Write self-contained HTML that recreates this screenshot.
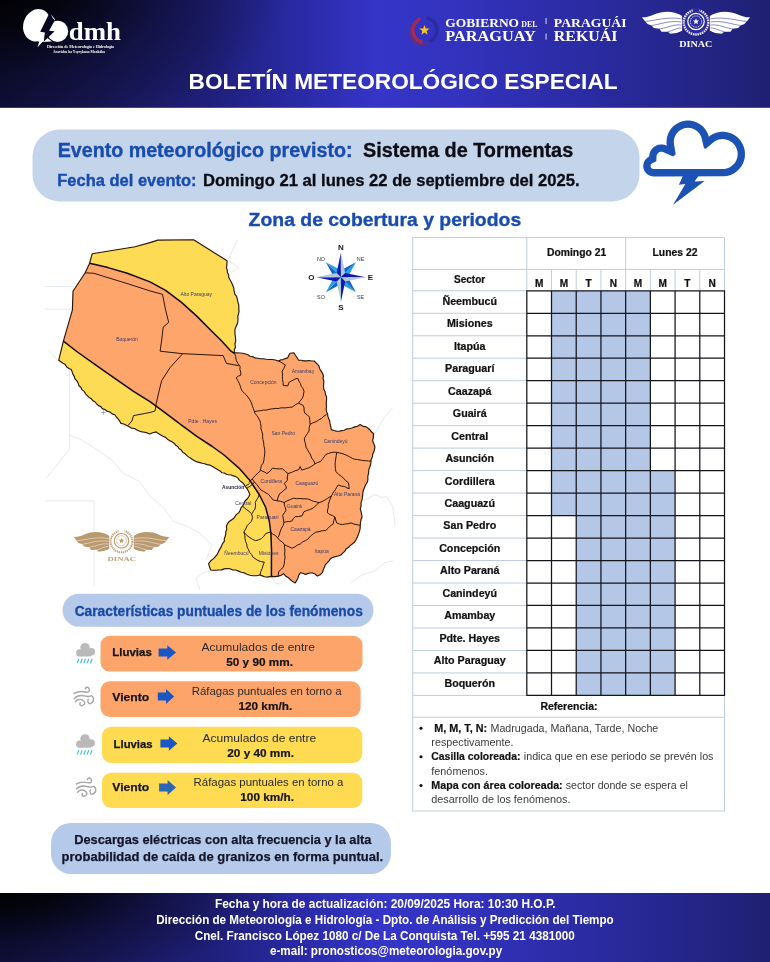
<!DOCTYPE html>
<html lang="es"><head><meta charset="utf-8"><title>Boletín Meteorológico Especial</title>
<style>
html,body{margin:0;padding:0;background:#fff}
body{width:770px;height:962px;overflow:hidden;font-family:'Liberation Sans',sans-serif}
svg{display:block}
svg text{font-family:'Liberation Sans',sans-serif;white-space:pre}
</style></head><body>
<svg width="770" height="962" viewBox="0 0 770 962">
<defs>
<linearGradient id="hg" gradientUnits="userSpaceOnUse" x1="0" y1="0" x2="770" y2="0">
<stop offset="0" stop-color="#111140"/><stop offset="0.13" stop-color="#18185a"/><stop offset="0.26" stop-color="#1e1e76"/><stop offset="0.39" stop-color="#2a2aa6"/>
<stop offset="0.49" stop-color="#3535c8"/><stop offset="0.58" stop-color="#3333c0"/><stop offset="0.78" stop-color="#2a2aa0"/><stop offset="1" stop-color="#1f2072"/>
</linearGradient>
<radialGradient id="hd" gradientUnits="userSpaceOnUse" cx="0" cy="0" r="1" gradientTransform="translate(-10 -12) scale(300 150)">
<stop offset="0" stop-color="#000" stop-opacity="1"/><stop offset="0.25" stop-color="#000" stop-opacity="0.8"/><stop offset="0.6" stop-color="#000" stop-opacity="0.32"/><stop offset="1" stop-color="#000" stop-opacity="0"/>
</radialGradient>
<radialGradient id="fd" gradientUnits="userSpaceOnUse" cx="0" cy="0" r="1" gradientTransform="translate(-10 885) scale(300 96)">
<stop offset="0" stop-color="#000" stop-opacity="1"/><stop offset="0.25" stop-color="#000" stop-opacity="0.8"/><stop offset="0.6" stop-color="#000" stop-opacity="0.32"/><stop offset="1" stop-color="#000" stop-opacity="0"/>
</radialGradient>
</defs>
<rect x="0" y="0" width="770" height="107.8" fill="url(#hg)"/><rect x="0" y="0" width="320" height="107.8" fill="url(#hd)"/>
<g fill="#fff">
<ellipse cx="37" cy="25.3" rx="13.7" ry="16.4" transform="rotate(17 37 25.3)"/>
<polygon points="36,40.5 46,37 52,41.6 40,41.9"/>
<circle cx="57.6" cy="31.3" r="10.6"/>
<polygon points="51.2,14.6 55.2,19.8 53.2,21.2"/>
</g>
<polygon points="49.2,13.6 54.8,20.5 49,30.7 54.6,31.3 43.7,41.8 44.9,32.4 40.2,31.7" fill="#07071f"/>
<polygon points="39.6,40.6 44.0,40.2 37.5,47.3" fill="#fff"/>
<text x="68.80" y="39.70" font-size="26" font-weight="bold" fill="#fff" textLength="52.20" lengthAdjust="spacingAndGlyphs" style="font-family:'Liberation Serif',serif">dmh</text>
<text x="47.00" y="47.80" font-size="4.6" font-weight="bold" fill="#fff" textLength="67.00" lengthAdjust="spacingAndGlyphs" style="font-family:'Liberation Serif',serif">Dirección de Meteorología e Hidrología</text>
<text x="53.00" y="52.50" font-size="4.6" font-weight="bold" fill="#fff" textLength="52.00" lengthAdjust="spacingAndGlyphs" style="font-family:'Liberation Serif',serif">Aravichu ha Ysyrykuaa Moakãha</text>
<path d="M420.5 18.5 A12.5 12.5 0 0 0 422.5 42.3" fill="none" stroke="#c0283c" stroke-width="3.4" opacity="0.85"/>
<path d="M415.5 23 A11 11 0 0 0 428.5 42.5" fill="none" stroke="#8a2a4e" stroke-width="1.6" opacity="0.7"/>
<path d="M426.5 17.7 A12.5 12.5 0 0 1 429.5 41.5" fill="none" stroke="#2a2a8e" stroke-width="3.4" opacity="0.7"/>
<polygon points="424.5,24.9 425.8,28.5 429.6,28.6 426.6,31.0 427.7,34.7 424.5,32.5 421.3,34.7 422.4,31.0 419.4,28.6 423.2,28.5" fill="#f6c81e"/>
<text x="445.30" y="26.60" font-size="12.6" font-weight="bold" fill="#fff" textLength="73.70" lengthAdjust="spacingAndGlyphs" style="font-family:'Liberation Serif',serif">GOBIERNO</text>
<text x="521.30" y="26.60" font-size="8.2" font-weight="bold" fill="#fff" textLength="16.10" lengthAdjust="spacingAndGlyphs" style="font-family:'Liberation Serif',serif">DEL</text>
<text x="445.30" y="41.20" font-size="13.6" font-weight="bold" fill="#fff" textLength="90.50" lengthAdjust="spacingAndGlyphs" style="font-family:'Liberation Serif',serif">PARAGUAY</text>
<rect x="545.6" y="18" width="0.9" height="6" fill="#e8e8ff"/><rect x="545.6" y="33.6" width="0.9" height="6" fill="#e8e8ff"/>
<text x="553.80" y="26.60" font-size="12.6" font-weight="bold" fill="#fff" textLength="72.70" lengthAdjust="spacingAndGlyphs" style="font-family:'Liberation Serif',serif">PARAGUÁI</text>
<text x="553.80" y="41.20" font-size="13.6" font-weight="bold" fill="#fff" textLength="63.60" lengthAdjust="spacingAndGlyphs" style="font-family:'Liberation Serif',serif">REKUÁI</text>
<g transform="translate(696,21.5) scale(1)">
<path d="M-13.87 -5.45 C-20.26 -10.44 -32.73 -11.38 -41.30 -7.32 C-45.97 -5.14 -50.65 -3.90 -54.08 -4.21 L-50.96 -0.16 L-48.47 2.49 L-44.41 3.90 L-42.23 6.39 L-36.62 7.32 L-34.44 10.29 L-28.05 10.13 L-25.87 12.31 L-19.17 11.38 L-13.87 9.19 Z" fill="#ffffff"/>
<path d="M-50.96 -0.16 C-41.30 -0.47 -30.39 -5.14 -14.49 -2.65 M-44.41 3.90 C-36.62 3.27 -27.27 -1.40 -14.49 0.47 M-36.62 7.32 C-29.61 6.70 -22.60 2.34 -14.49 3.58 M-28.05 10.13 C-23.38 9.51 -19.17 6.08 -14.49 6.39" fill="none" stroke="#2b2b9c" stroke-width="0.55"/>
<path d="M13.87 -5.45 C20.26 -10.44 32.73 -11.38 41.30 -7.32 C45.97 -5.14 50.65 -3.90 54.08 -4.21 L50.96 -0.16 L48.47 2.49 L44.41 3.90 L42.23 6.39 L36.62 7.32 L34.44 10.29 L28.05 10.13 L25.87 12.31 L19.17 11.38 L13.87 9.19 Z" fill="#ffffff"/>
<path d="M50.96 -0.16 C41.30 -0.47 30.39 -5.14 14.49 -2.65 M44.41 3.90 C36.62 3.27 27.27 -1.40 14.49 0.47 M36.62 7.32 C29.61 6.70 22.60 2.34 14.49 3.58 M28.05 10.13 C23.38 9.51 19.17 6.08 14.49 6.39" fill="none" stroke="#2b2b9c" stroke-width="0.55"/>
<ellipse cx="0" cy="0.8" rx="13.6" ry="13.2" fill="#2b2b9c"/>
<ellipse cx="0" cy="0.8" rx="12.3" ry="12.2" fill="none" stroke="#ffffff" stroke-width="2.3" stroke-dasharray="1.5 0.8" opacity="0.92"/>
<rect x="-3.4" y="-14" width="6.8" height="6" fill="#2b2b9c"/>
<circle cx="0" cy="0" r="8.9" fill="#2b2b9c"/>
<circle cx="0" cy="0" r="8.2" fill="none" stroke="#ffffff" stroke-width="1.25"/>
<circle cx="0" cy="0" r="5.6" fill="none" stroke="#ffffff" stroke-width="0.9" stroke-dasharray="1.1 0.7"/>
<polygon points="0.0,-3.4 0.8,-1.1 3.2,-1.1 1.3,0.4 2.0,2.8 0.0,1.4 -2.0,2.8 -1.3,0.4 -3.2,-1.1 -0.8,-1.1" fill="#ffffff"/>
</g>
<text x="679.30" y="47.20" font-size="9.2" font-weight="bold" fill="#fff" textLength="33.10" lengthAdjust="spacingAndGlyphs" style="font-family:'Liberation Serif',serif">DINAC</text>
<text x="188.60" y="89.10" font-size="21.8" font-weight="bold" fill="#fff" textLength="429.00" lengthAdjust="spacingAndGlyphs">BOLETÍN METEOROLÓGICO ESPECIAL</text>
<rect x="32.5" y="129.6" width="607" height="71.8" rx="27" ry="27" fill="#c4d4eb"/>
<text x="57.70" y="156.50" font-size="19.4" font-weight="bold" fill="#184cae" textLength="294.80" lengthAdjust="spacingAndGlyphs" stroke="#184cae" stroke-width="0.35">Evento meteorológico previsto:</text>
<text x="362.90" y="156.50" font-size="19.4" font-weight="bold" fill="#0c0c14" textLength="210.30" lengthAdjust="spacingAndGlyphs" stroke="#0c0c14" stroke-width="0.3">Sistema de Tormentas</text>
<text x="57.30" y="186.00" font-size="16.8" font-weight="bold" fill="#184cae" textLength="139.20" lengthAdjust="spacingAndGlyphs" stroke="#184cae" stroke-width="0.35">Fecha del evento:</text>
<text x="202.90" y="186.00" font-size="16.8" font-weight="bold" fill="#0c0c14" textLength="376.70" lengthAdjust="spacingAndGlyphs" stroke="#0c0c14" stroke-width="0.3">Domingo 21 al lunes 22 de septiembre del 2025.</text>
<path d="M708.36 135.09 L707.28 132.49 L706.62 131.25 L705.06 128.91 L704.16 127.82 L702.18 125.84 L701.09 124.94 L698.75 123.38 L696.23 122.14 L693.56 121.23 L692.19 120.91 L689.41 120.55 L686.59 120.55 L685.19 120.68 L682.44 121.23 L679.77 122.14 L677.25 123.38 L674.91 124.94 L673.82 125.84 L671.84 127.82 L670.12 130.06 L668.72 132.49 L667.64 135.09 L667.23 136.44 L666.68 139.19 L666.50 142.00 L666.55 143.41 L666.83 145.67 L665.32 145.05 L662.99 144.50 L660.60 144.43 L658.24 144.82 L656.00 145.66 L654.62 146.46 L652.77 147.97 L651.26 149.82 L650.46 151.20 L649.85 152.68 L649.43 154.22 L649.20 156.58 L648.40 156.99 L647.27 157.75 L645.78 159.14 L644.59 160.80 L643.75 162.66 L643.29 164.64 L643.22 166.68 L643.40 168.03 L643.75 169.34 L644.59 171.20 L645.35 172.33 L646.25 173.35 L647.27 174.25 L648.40 175.01 L649.62 175.61 L650.91 176.05 L652.24 176.31 L653.60 176.40 L724.16 176.35 L727.05 175.97 L729.87 175.22 L731.23 174.70 L733.85 173.41 L736.28 171.79 L737.40 170.87 L739.47 168.80 L741.24 166.49 L742.01 165.25 L743.30 162.63 L743.82 161.27 L744.57 158.45 L744.81 157.01 L744.95 155.56 L744.95 152.64 L744.57 149.75 L744.24 148.33 L743.82 146.93 L742.70 144.24 L742.01 142.95 L740.39 140.52 L738.47 138.33 L737.40 137.33 L735.09 135.56 L733.85 134.79 L732.56 134.10 L729.87 132.98 L727.05 132.23 L724.16 131.85 L721.24 131.85 L718.35 132.23 L716.93 132.56 L715.53 132.98 L712.84 134.10 L710.31 135.56 L708.82 136.66 Z " fill="#1d52b5"/><path d="M652.23 163.22 L651.41 163.81 L650.82 164.63 L650.53 165.60 L650.56 166.60 L650.92 167.55 L651.56 168.33 L652.42 168.86 L653.40 169.09 L722.58 169.10 L724.66 168.97 L726.58 168.59 L727.52 168.30 L729.33 167.55 L730.20 167.09 L731.03 166.57 L732.59 165.37 L733.97 163.99 L734.60 163.23 L735.17 162.43 L736.15 160.73 L736.55 159.84 L737.19 157.98 L737.41 157.03 L737.66 155.08 L737.66 153.12 L737.57 152.14 L737.41 151.17 L736.90 149.28 L736.15 147.47 L735.17 145.77 L734.60 144.97 L733.30 143.50 L732.59 142.83 L731.03 141.63 L729.33 140.65 L727.52 139.90 L725.63 139.39 L724.66 139.23 L722.70 139.10 L720.74 139.23 L718.82 139.61 L716.96 140.25 L715.20 141.11 L713.57 142.20 L705.66 148.69 L704.00 148.13 L701.44 137.44 L700.73 135.72 L700.29 134.90 L699.26 133.36 L698.67 132.64 L698.04 131.96 L696.64 130.74 L695.10 129.71 L693.43 128.88 L691.67 128.29 L689.85 127.93 L688.00 127.80 L686.15 127.93 L684.33 128.29 L682.57 128.88 L680.90 129.71 L679.36 130.74 L677.96 131.96 L676.74 133.36 L675.71 134.90 L674.88 136.57 L674.29 138.33 L674.08 139.23 L673.83 141.07 L673.83 142.93 L675.69 154.52 L673.05 156.54 L662.97 151.96 L662.36 151.80 L661.40 151.70 L660.44 151.80 L659.83 151.96 L658.95 152.36 L657.94 153.14 L657.16 154.15 L656.76 155.03 L656.51 156.28 L656.35 161.36 Z " fill="#fff"/><polygon points="682.9,175.7 678.9,184.7 685.4,184.1 673.1,204.7 704.6,181.0 694.6,181.6 698.6,175.7" fill="#1d52b5"/>
<text x="248.60" y="226.30" font-size="19.2" font-weight="bold" fill="#184cae" textLength="272.60" lengthAdjust="spacingAndGlyphs" stroke="#184cae" stroke-width="0.35">Zona de cobertura y periodos</text>
<path d="M44.7 286.5 L73.5 286.5 M44.7 309.1 L72.0 309.1 M49.7 351.0 L59.6 363.0 M45.2 500.9 L94.0 500.9 L94.0 585.5 M69.6 371.0 L69.6 449.0 L46.2 478.4 M69.6 435.0 L81.6 440.0 L98.2 450.4 L112.7 460.8 L123.1 473.2 L139.7 481.6 L150.1 496.1 L164.7 508.6 L173.0 521.0 L189.6 527.3 L200.0 533.5 L212.0 545.0 L206.0 560.0 M392.8 407.7 L384.0 418.0 L375.5 432.4 L372.0 440.0 M363.0 500.5 L369.0 498.0 L375.0 494.5 L381.0 497.5 L386.4 496.5 L392.8 506.4 L395.2 526.2 M350.8 582.9 L362.0 575.0 L375.5 570.6 L384.0 563.0 L392.8 560.7 M237.3 240.0 L227.8 260.5 L238.8 268.0 L231.0 272.5 M200.0 590.0 L196.0 578.0 L205.0 572.0 L211.0 571.0 M271.6 577.0 L276.0 583.5 L281.0 584.0 L284.0 580.0" fill="none" stroke="#e2e7f0" stroke-width="0.9"/>
<defs><clipPath id="py"><path d="M92.2 253.8 L135.1 246.8 L150.0 242.6 L157.8 240.1 L193.6 239.8 L227.1 260.8 L226.9 264.3 L226.4 267.8 L227.3 270.1 L227.4 272.5 L228.6 274.7 L228.7 277.2 L230.0 279.8 L231.4 282.3 L232.6 285.0 L233.8 288.0 L234.1 291.2 L234.9 294.3 L236.6 296.4 L237.3 299.0 L237.9 302.1 L238.8 305.2 L238.8 308.4 L239.0 311.2 L238.5 313.9 L237.8 316.5 L238.0 319.3 L237.8 321.9 L237.1 324.3 L236.0 326.7 L235.0 329.1 L234.9 331.7 L235.1 334.8 L235.5 338.0 L235.7 341.1 L234.9 344.0 L235.5 347.0 L234.3 349.8 L234.4 352.8 L237.2 352.9 L240.0 353.0 L242.8 353.3 L245.6 354.0 L248.0 354.8 L250.1 356.3 L252.7 356.6 L254.9 357.9 L257.7 358.3 L260.5 358.7 L263.4 358.7 L266.2 359.2 L269.0 359.5 L272.2 359.5 L275.3 360.0 L278.3 361.0 L280.5 359.9 L283.1 359.6 L285.3 358.6 L287.7 357.9 L288.7 355.5 L290.0 353.2 L293.9 352.8 L295.4 355.3 L297.1 357.8 L298.6 360.3 L301.2 360.2 L303.8 360.9 L306.4 360.9 L309.0 360.5 L311.6 361.0 L314.2 361.0 L316.5 363.4 L318.8 365.7 L319.6 368.4 L320.9 370.9 L322.5 373.2 L323.5 375.8 L323.0 378.6 L323.9 381.3 L323.6 384.1 L323.5 386.8 L323.8 389.3 L325.1 391.7 L325.4 394.2 L326.5 396.6 L326.6 399.2 L326.4 401.7 L326.3 404.2 L326.5 406.7 L326.2 409.2 L326.6 411.7 L327.6 414.0 L327.9 416.4 L328.8 418.7 L329.7 421.0 L330.1 423.9 L330.8 426.7 L331.3 429.6 L333.8 430.5 L336.4 431.1 L339.1 431.2 L341.6 430.6 L344.2 430.2 L346.6 428.9 L349.2 428.8 L352.0 428.0 L354.7 426.9 L357.6 426.2 L360.1 424.6 L362.6 426.1 L365.4 426.6 L367.9 428.0 L369.8 429.7 L371.4 431.8 L373.4 433.5 L373.5 437.1 L372.6 440.5 L373.8 443.6 L374.9 446.8 L374.5 449.5 L373.8 452.1 L372.6 454.5 L372.5 457.0 L371.2 459.2 L371.0 461.6 L370.6 464.5 L369.7 467.3 L368.7 470.1 L368.6 473.2 L367.8 476.3 L367.9 479.5 L367.4 482.0 L366.0 484.2 L364.9 486.5 L364.0 488.8 L363.1 491.3 L362.7 493.9 L362.5 496.6 L362.0 500.1 L361.0 502.9 L361.1 505.8 L360.3 508.6 L361.0 511.4 L361.6 514.2 L362.0 517.0 L361.0 519.8 L360.4 522.6 L360.3 525.5 L360.1 528.4 L359.5 531.2 L358.6 533.9 L357.5 536.8 L356.1 539.6 L354.4 542.3 L352.3 544.0 L350.1 545.6 L348.3 547.6 L346.0 549.1 L344.7 551.4 L342.7 553.1 L340.9 555.0 L338.1 556.0 L335.3 556.6 L332.5 557.5 L330.4 558.8 L329.0 560.8 L327.4 562.6 L325.7 564.3 L324.4 567.1 L323.3 569.8 L322.3 572.7 L320.1 574.8 L317.3 576.1 L315.0 574.0 L312.2 572.7 L308.8 573.3 L305.5 574.4 L303.1 573.2 L300.4 572.7 L298.8 575.1 L298.0 577.9 L296.7 580.4 L295.3 582.9 L292.6 581.6 L290.3 579.5 L288.1 577.4 L285.5 575.9 L283.5 573.6 L281.2 575.3 L278.4 576.1 L274.9 576.6 L271.4 576.4 L267.1 577.1 L264.6 576.8 L262.3 575.9 L260.0 575.0 L256.5 575.8 L252.9 575.7 L249.9 575.3 L247.0 574.2 L244.3 572.9 L241.3 572.3 L238.5 571.1 L235.7 570.0 L232.7 570.0 L230.0 568.7 L227.1 568.6 L224.2 568.9 L221.5 569.9 L218.6 570.0 L216.0 570.3 L213.3 570.2 L210.7 570.0 L209.5 566.8 L208.6 563.6 L210.8 560.8 L213.6 558.6 L215.6 556.4 L217.4 554.1 L218.6 551.4 L220.0 548.9 L221.4 546.4 L222.5 543.7 L224.3 541.4 L224.3 538.9 L225.1 536.6 L225.7 534.3 L225.8 531.8 L226.8 529.4 L226.4 526.7 L227.1 524.3 L228.9 521.8 L231.4 520.0 L233.5 518.6 L235.0 516.5 L236.5 514.4 L238.6 512.9 L240.1 510.5 L241.0 507.8 L242.9 505.7 L244.1 503.3 L245.2 500.8 L247.2 499.0 L248.7 496.8 L249.9 494.5 L248.5 491.3 L246.8 488.3 L245.0 486.1 L243.6 483.6 L241.6 482.0 L239.5 480.4 L237.9 478.1 L235.8 476.6 L233.5 475.9 L231.2 475.0 L228.7 474.8 L226.4 474.3 L224.2 473.0 L221.8 472.7 L220.0 470.9 L217.9 469.8 L215.8 468.5 L213.7 467.2 L211.6 466.0 L209.4 464.9 L207.0 464.6 L204.7 463.7 L202.3 463.3 L200.0 462.6 L197.2 461.9 L194.5 460.8 L192.1 459.2 L189.6 457.6 L187.2 455.9 L185.2 453.8 L182.7 452.2 L181.3 450.1 L179.2 448.7 L177.8 446.6 L175.7 445.2 L174.0 443.2 L172.0 441.7 L169.5 440.6 L167.4 439.2 L165.6 437.4 L163.1 436.3 L160.7 434.9 L158.4 433.6 L156.2 431.9 L152.8 432.8 L149.5 434.0 L147.2 432.9 L144.7 432.2 L142.1 431.9 L139.7 431.2 L137.0 429.9 L134.4 428.5 L131.3 428.1 L128.8 426.5 L126.3 425.3 L123.8 424.0 L121.0 423.4 L119.7 421.1 L118.1 418.9 L116.3 417.0 L114.8 414.8 L112.1 413.9 L109.9 412.0 L107.2 411.2 L104.9 409.5 L102.3 408.6 L100.8 406.6 L98.5 405.6 L96.7 404.0 L95.2 402.0 L93.0 400.8 L91.4 398.8 L89.1 397.4 L87.3 395.6 L85.5 393.8 L84.2 391.4 L82.1 389.9 L81.0 387.5 L79.0 385.8 L78.2 383.2 L76.9 380.9 L75.1 379.0 L74.3 376.6 L73.0 374.4 L72.2 371.9 L71.2 369.6 L68.9 368.4 L66.7 366.9 L65.3 364.5 L63.0 363.3 L60.8 361.8 L58.7 360.3 L63.4 341.1 L72.4 309.9 L73.0 291.2 L85.2 272.8 L89.6 263.2 Z"/></clipPath></defs>
<path d="M92.2 253.8 L135.1 246.8 L150.0 242.6 L157.8 240.1 L193.6 239.8 L227.1 260.8 L226.9 264.3 L226.4 267.8 L227.3 270.1 L227.4 272.5 L228.6 274.7 L228.7 277.2 L230.0 279.8 L231.4 282.3 L232.6 285.0 L233.8 288.0 L234.1 291.2 L234.9 294.3 L236.6 296.4 L237.3 299.0 L237.9 302.1 L238.8 305.2 L238.8 308.4 L239.0 311.2 L238.5 313.9 L237.8 316.5 L238.0 319.3 L237.8 321.9 L237.1 324.3 L236.0 326.7 L235.0 329.1 L234.9 331.7 L235.1 334.8 L235.5 338.0 L235.7 341.1 L234.9 344.0 L235.5 347.0 L234.3 349.8 L234.4 352.8 L237.2 352.9 L240.0 353.0 L242.8 353.3 L245.6 354.0 L248.0 354.8 L250.1 356.3 L252.7 356.6 L254.9 357.9 L257.7 358.3 L260.5 358.7 L263.4 358.7 L266.2 359.2 L269.0 359.5 L272.2 359.5 L275.3 360.0 L278.3 361.0 L280.5 359.9 L283.1 359.6 L285.3 358.6 L287.7 357.9 L288.7 355.5 L290.0 353.2 L293.9 352.8 L295.4 355.3 L297.1 357.8 L298.6 360.3 L301.2 360.2 L303.8 360.9 L306.4 360.9 L309.0 360.5 L311.6 361.0 L314.2 361.0 L316.5 363.4 L318.8 365.7 L319.6 368.4 L320.9 370.9 L322.5 373.2 L323.5 375.8 L323.0 378.6 L323.9 381.3 L323.6 384.1 L323.5 386.8 L323.8 389.3 L325.1 391.7 L325.4 394.2 L326.5 396.6 L326.6 399.2 L326.4 401.7 L326.3 404.2 L326.5 406.7 L326.2 409.2 L326.6 411.7 L327.6 414.0 L327.9 416.4 L328.8 418.7 L329.7 421.0 L330.1 423.9 L330.8 426.7 L331.3 429.6 L333.8 430.5 L336.4 431.1 L339.1 431.2 L341.6 430.6 L344.2 430.2 L346.6 428.9 L349.2 428.8 L352.0 428.0 L354.7 426.9 L357.6 426.2 L360.1 424.6 L362.6 426.1 L365.4 426.6 L367.9 428.0 L369.8 429.7 L371.4 431.8 L373.4 433.5 L373.5 437.1 L372.6 440.5 L373.8 443.6 L374.9 446.8 L374.5 449.5 L373.8 452.1 L372.6 454.5 L372.5 457.0 L371.2 459.2 L371.0 461.6 L370.6 464.5 L369.7 467.3 L368.7 470.1 L368.6 473.2 L367.8 476.3 L367.9 479.5 L367.4 482.0 L366.0 484.2 L364.9 486.5 L364.0 488.8 L363.1 491.3 L362.7 493.9 L362.5 496.6 L362.0 500.1 L361.0 502.9 L361.1 505.8 L360.3 508.6 L361.0 511.4 L361.6 514.2 L362.0 517.0 L361.0 519.8 L360.4 522.6 L360.3 525.5 L360.1 528.4 L359.5 531.2 L358.6 533.9 L357.5 536.8 L356.1 539.6 L354.4 542.3 L352.3 544.0 L350.1 545.6 L348.3 547.6 L346.0 549.1 L344.7 551.4 L342.7 553.1 L340.9 555.0 L338.1 556.0 L335.3 556.6 L332.5 557.5 L330.4 558.8 L329.0 560.8 L327.4 562.6 L325.7 564.3 L324.4 567.1 L323.3 569.8 L322.3 572.7 L320.1 574.8 L317.3 576.1 L315.0 574.0 L312.2 572.7 L308.8 573.3 L305.5 574.4 L303.1 573.2 L300.4 572.7 L298.8 575.1 L298.0 577.9 L296.7 580.4 L295.3 582.9 L292.6 581.6 L290.3 579.5 L288.1 577.4 L285.5 575.9 L283.5 573.6 L281.2 575.3 L278.4 576.1 L274.9 576.6 L271.4 576.4 L267.1 577.1 L264.6 576.8 L262.3 575.9 L260.0 575.0 L256.5 575.8 L252.9 575.7 L249.9 575.3 L247.0 574.2 L244.3 572.9 L241.3 572.3 L238.5 571.1 L235.7 570.0 L232.7 570.0 L230.0 568.7 L227.1 568.6 L224.2 568.9 L221.5 569.9 L218.6 570.0 L216.0 570.3 L213.3 570.2 L210.7 570.0 L209.5 566.8 L208.6 563.6 L210.8 560.8 L213.6 558.6 L215.6 556.4 L217.4 554.1 L218.6 551.4 L220.0 548.9 L221.4 546.4 L222.5 543.7 L224.3 541.4 L224.3 538.9 L225.1 536.6 L225.7 534.3 L225.8 531.8 L226.8 529.4 L226.4 526.7 L227.1 524.3 L228.9 521.8 L231.4 520.0 L233.5 518.6 L235.0 516.5 L236.5 514.4 L238.6 512.9 L240.1 510.5 L241.0 507.8 L242.9 505.7 L244.1 503.3 L245.2 500.8 L247.2 499.0 L248.7 496.8 L249.9 494.5 L248.5 491.3 L246.8 488.3 L245.0 486.1 L243.6 483.6 L241.6 482.0 L239.5 480.4 L237.9 478.1 L235.8 476.6 L233.5 475.9 L231.2 475.0 L228.7 474.8 L226.4 474.3 L224.2 473.0 L221.8 472.7 L220.0 470.9 L217.9 469.8 L215.8 468.5 L213.7 467.2 L211.6 466.0 L209.4 464.9 L207.0 464.6 L204.7 463.7 L202.3 463.3 L200.0 462.6 L197.2 461.9 L194.5 460.8 L192.1 459.2 L189.6 457.6 L187.2 455.9 L185.2 453.8 L182.7 452.2 L181.3 450.1 L179.2 448.7 L177.8 446.6 L175.7 445.2 L174.0 443.2 L172.0 441.7 L169.5 440.6 L167.4 439.2 L165.6 437.4 L163.1 436.3 L160.7 434.9 L158.4 433.6 L156.2 431.9 L152.8 432.8 L149.5 434.0 L147.2 432.9 L144.7 432.2 L142.1 431.9 L139.7 431.2 L137.0 429.9 L134.4 428.5 L131.3 428.1 L128.8 426.5 L126.3 425.3 L123.8 424.0 L121.0 423.4 L119.7 421.1 L118.1 418.9 L116.3 417.0 L114.8 414.8 L112.1 413.9 L109.9 412.0 L107.2 411.2 L104.9 409.5 L102.3 408.6 L100.8 406.6 L98.5 405.6 L96.7 404.0 L95.2 402.0 L93.0 400.8 L91.4 398.8 L89.1 397.4 L87.3 395.6 L85.5 393.8 L84.2 391.4 L82.1 389.9 L81.0 387.5 L79.0 385.8 L78.2 383.2 L76.9 380.9 L75.1 379.0 L74.3 376.6 L73.0 374.4 L72.2 371.9 L71.2 369.6 L68.9 368.4 L66.7 366.9 L65.3 364.5 L63.0 363.3 L60.8 361.8 L58.7 360.3 L63.4 341.1 L72.4 309.9 L73.0 291.2 L85.2 272.8 L89.6 263.2 Z" fill="#fea56c"/>
<g clip-path="url(#py)" fill="#fddb55"><path d="M89.6 263.2 L108.0 267.6 L127.3 273.3 L150.0 281.9 L165.6 290.4 L181.2 302.1 L196.8 316.1 L212.3 331.7 L221.7 341.0 L231.0 351.2 L234.4 353.4 L260.0 353.4 L260.0 200.0 L60.0 200.0 L60.0 263.2 Z"/><path d="M63.4 341.1 L77.4 352.0 L102.3 369.6 L133.5 391.4 L150.0 401.6 L165.6 413.2 L181.2 424.9 L196.8 436.4 L212.3 446.5 L223.4 454.5 L239.0 468.1 L249.9 480.5 L259.2 494.5 L265.5 507.0 L269.3 521.0 L270.9 533.5 L271.5 549.1 L271.4 576.4 L271.4 620.0 L20.0 620.0 L20.0 341.1 Z"/></g>
<path d="M85.2 272.8 L93.8 273.3 L127.0 283.5 L150.0 290.9 L162.5 294.3 L165.6 309.9 L168.7 322.4 L163.2 327.1 L161.7 340.0 L160.1 351.2 L182.7 353.7 M182.7 353.7 L223.2 355.6 L226.4 363.4 L238.8 365.7 M182.7 353.7 L170.3 367.3 L161.7 380.5 L158.6 393.0 L156.2 403.9 L155.0 411.0 L150.0 412.5 L133.5 415.6 L131.9 421.0 L128.0 425.5 M234.4 352.8 L235.7 356.5 L236.2 360.3 L237.9 363.5 L240.1 366.5 L239.9 369.4 L240.7 372.2 L240.9 375.1 L238.4 376.1 L236.2 377.8 L237.9 380.7 L239.4 383.6 L240.3 386.2 L241.1 388.9 L242.5 391.4 L244.4 393.2 L246.3 395.0 L248.0 397.1 L249.5 399.2 L251.2 402.2 L252.2 405.4 L253.4 408.6 L254.9 413.2 L256.9 415.6 L258.6 418.2 L260.0 421.0 L260.6 423.6 L261.0 426.2 L261.0 428.9 L261.8 431.5 L262.7 434.1 L262.6 436.8 L262.8 439.4 L263.6 442.0 L263.9 445.7 L264.7 449.4 L264.8 452.1 L264.6 454.9 L264.2 457.6 L263.9 460.3 L263.3 463.1 L261.4 465.3 L260.8 468.1 L260.0 471.2 L257.5 473.4 L255.1 475.7 L253.0 478.2 L250.9 480.3 L249.0 482.5 M254.4 411.7 L257.3 411.0 L260.3 410.8 L263.1 410.1 L266.1 410.1 L269.0 409.3 L272.1 408.9 L275.2 408.4 L278.3 408.5 L281.4 407.8 L284.1 407.9 L286.9 407.7 L289.6 407.3 L292.3 407.0 L295.3 404.8 L298.6 403.1 M278.3 361.0 L280.8 362.1 L283.0 363.5 L285.3 364.9 L284.0 368.2 L282.2 371.2 L282.5 374.0 L282.5 376.8 L282.5 379.6 L283.1 382.4 L283.0 385.2 L287.7 386.0 L289.2 382.1 L292.0 380.7 L294.8 379.2 L297.8 378.2 L298.8 381.0 L300.4 383.4 L301.2 386.3 L303.1 388.6 L304.0 391.4 L303.2 396.1 L302.0 398.7 L300.2 400.8 L298.6 403.1 M298.6 403.1 L303.2 405.5 L304.1 408.0 L304.1 410.7 L304.8 413.2 L307.4 414.9 L309.5 417.1 L309.8 420.7 L310.1 424.4 M310.1 424.4 L312.9 422.8 L316.1 421.7 L318.8 419.9 L321.6 418.4 L323.9 416.1 L326.6 414.5 M310.1 424.4 L309.2 427.6 L309.0 431.0 L307.5 433.4 L305.9 435.8 L304.4 438.2 L304.6 441.2 L305.6 444.0 L305.9 447.0 L307.5 449.7 L309.0 452.4 L310.6 455.0 L311.7 458.1 L313.8 460.8 L314.9 463.9 M314.9 463.9 L317.5 462.5 L320.4 461.6 L322.3 459.3 L324.1 456.9 L325.8 454.5 L328.4 453.5 L331.0 452.6 L333.9 452.2 L336.8 452.4 M336.8 452.4 L339.9 453.0 L343.0 453.8 L346.2 455.1 L349.3 456.6 L352.3 458.4 L354.8 459.3 L357.5 459.5 L360.1 460.0 L362.8 460.5 L365.5 460.7 L368.3 460.9 L371.0 461.3 M314.9 463.9 L311.9 466.1 L308.7 467.8 L305.2 469.0 L301.7 470.1 L300.2 466.5 L298.6 469.8 L294.7 470.9 L291.4 472.5 L288.0 473.5 M336.8 452.4 L336.2 455.7 L335.7 459.0 L335.2 462.3 L335.2 465.5 L335.4 468.6 L336.0 471.7 L338.5 474.3 L341.4 476.4 L343.8 478.4 L345.8 480.8 L348.4 482.6 L348.9 485.7 L349.2 488.8 L346.8 487.8 L344.5 486.5 L341.3 486.1 L338.3 484.9 L336.7 487.2 L335.4 489.7 L333.6 491.9 L331.4 496.0 M331.4 496.0 L330.2 498.9 L329.1 501.8 L328.3 504.5 L328.3 507.3 L327.6 510.0 L327.4 512.8 L329.7 514.5 L332.5 515.6 L335.0 517.0 M335.0 517.0 L335.7 520.0 L336.7 522.9 L339.6 524.1 L342.6 524.6 L345.4 524.0 L348.2 523.7 L351.0 522.9 L354.0 524.1 L357.2 524.7 L360.3 525.5 M260.8 470.4 L264.0 471.8 L267.0 473.5 L270.1 471.1 L272.5 468.1 L275.8 468.7 L279.2 468.9 L282.6 468.8 L285.1 471.3 L288.0 473.5 L287.3 477.0 L287.3 480.5 L284.2 483.6 L285.8 485.8 L286.5 488.3 L284.1 490.0 L282.0 492.1 L279.5 493.8 L278.1 497.2 L277.1 500.8 L273.2 500.0 L270.9 497.3 L268.6 494.5 L266.0 492.9 L263.4 491.4 L260.8 489.9 L258.8 487.3 L256.8 484.5 L254.5 482.1 L252.2 479.0 M277.1 500.8 L280.7 501.3 L284.2 502.5 L287.2 500.8 L290.3 499.5 L293.5 498.2 L296.6 498.7 L299.8 498.5 L302.9 498.8 L306.0 498.8 L308.7 499.2 L311.2 500.4 L313.7 501.4 L316.4 501.9 L319.0 502.7 L322.0 501.6 L324.8 500.1 L327.4 498.4 L331.4 496.0 M284.2 502.5 L284.4 505.2 L285.3 507.7 L286.0 510.3 L284.4 512.8 L282.7 515.3 L283.3 518.9 L283.9 522.4 M283.9 522.4 L286.5 521.7 L289.2 521.5 L291.9 521.0 L293.3 518.6 L295.2 516.6 L298.7 516.5 L302.1 515.8 L303.8 511.9 L306.5 510.6 L309.4 509.7 L312.2 508.6 L314.7 506.9 L316.7 504.6 L319.0 502.7 M283.9 522.4 L283.0 525.8 L281.2 528.8 L280.0 532.0 L279.2 535.1 L277.6 537.8 M277.6 537.8 L279.6 540.3 L282.4 542.0 L284.4 544.5 L286.8 545.9 L289.4 547.0 L291.9 548.2 L294.8 547.0 L297.3 545.1 L300.2 544.0 L302.6 541.9 L305.5 540.6 L307.8 539.3 L309.5 537.2 L311.4 535.3 L313.5 533.8 L315.6 532.2 L319.0 531.7 L322.3 530.7 L325.7 530.5 L328.2 528.2 L330.5 525.7 L333.3 523.8 L333.8 520.3 L335.0 517.0 M284.4 544.5 L284.6 547.7 L284.9 550.9 L284.6 554.1 L285.1 557.3 L284.5 560.7 L284.2 564.1 L283.2 567.4 L280.7 569.5 L278.6 572.0 L278.2 576.6 M243.8 532.0 L247.1 535.7 L249.9 537.6 L252.6 539.4 L255.7 540.7 L258.6 539.9 L261.4 538.6 L263.8 536.3 L265.7 533.6 L270.0 532.1 L272.1 533.6 L275.1 535.4 L277.6 537.8 M243.8 532.0 L244.8 535.2 L245.0 538.6 L245.6 541.5 L246.8 544.2 L247.1 547.1 L248.5 549.6 L249.6 552.3 L251.6 554.5 L252.9 557.1 L257.1 560.0 L260.6 561.5 L264.3 562.1 L263.1 565.3 L262.1 568.6 L260.7 571.7 L260.0 575.0 M242.9 506.6 L246.8 509.7 L249.2 511.5 L251.4 513.6 L252.6 517.5 L251.4 521.4 L249.2 523.5 L247.1 525.7 L245.7 529.0 L243.8 532.0 M259.2 494.5 L258.2 497.3 L256.7 499.7 L255.3 502.3 L255.5 505.7 L255.0 509.0 L253.4 511.2 L252.2 513.6 M246.8 488.3 L251.4 485.4 L254.5 482.1 M245.5 486.0 L249.5 483.6" fill="none" stroke="#2a1608" stroke-width="1" stroke-linejoin="round"/>
<path d="M92.2 253.8 L135.1 246.8 L150.0 242.6 L157.8 240.1 L193.6 239.8 L227.1 260.8 L226.9 264.3 L226.4 267.8 L227.3 270.1 L227.4 272.5 L228.6 274.7 L228.7 277.2 L230.0 279.8 L231.4 282.3 L232.6 285.0 L233.8 288.0 L234.1 291.2 L234.9 294.3 L236.6 296.4 L237.3 299.0 L237.9 302.1 L238.8 305.2 L238.8 308.4 L239.0 311.2 L238.5 313.9 L237.8 316.5 L238.0 319.3 L237.8 321.9 L237.1 324.3 L236.0 326.7 L235.0 329.1 L234.9 331.7 L235.1 334.8 L235.5 338.0 L235.7 341.1 L234.9 344.0 L235.5 347.0 L234.3 349.8 L234.4 352.8 L237.2 352.9 L240.0 353.0 L242.8 353.3 L245.6 354.0 L248.0 354.8 L250.1 356.3 L252.7 356.6 L254.9 357.9 L257.7 358.3 L260.5 358.7 L263.4 358.7 L266.2 359.2 L269.0 359.5 L272.2 359.5 L275.3 360.0 L278.3 361.0 L280.5 359.9 L283.1 359.6 L285.3 358.6 L287.7 357.9 L288.7 355.5 L290.0 353.2 L293.9 352.8 L295.4 355.3 L297.1 357.8 L298.6 360.3 L301.2 360.2 L303.8 360.9 L306.4 360.9 L309.0 360.5 L311.6 361.0 L314.2 361.0 L316.5 363.4 L318.8 365.7 L319.6 368.4 L320.9 370.9 L322.5 373.2 L323.5 375.8 L323.0 378.6 L323.9 381.3 L323.6 384.1 L323.5 386.8 L323.8 389.3 L325.1 391.7 L325.4 394.2 L326.5 396.6 L326.6 399.2 L326.4 401.7 L326.3 404.2 L326.5 406.7 L326.2 409.2 L326.6 411.7 L327.6 414.0 L327.9 416.4 L328.8 418.7 L329.7 421.0 L330.1 423.9 L330.8 426.7 L331.3 429.6 L333.8 430.5 L336.4 431.1 L339.1 431.2 L341.6 430.6 L344.2 430.2 L346.6 428.9 L349.2 428.8 L352.0 428.0 L354.7 426.9 L357.6 426.2 L360.1 424.6 L362.6 426.1 L365.4 426.6 L367.9 428.0 L369.8 429.7 L371.4 431.8 L373.4 433.5 L373.5 437.1 L372.6 440.5 L373.8 443.6 L374.9 446.8 L374.5 449.5 L373.8 452.1 L372.6 454.5 L372.5 457.0 L371.2 459.2 L371.0 461.6 L370.6 464.5 L369.7 467.3 L368.7 470.1 L368.6 473.2 L367.8 476.3 L367.9 479.5 L367.4 482.0 L366.0 484.2 L364.9 486.5 L364.0 488.8 L363.1 491.3 L362.7 493.9 L362.5 496.6 L362.0 500.1 L361.0 502.9 L361.1 505.8 L360.3 508.6 L361.0 511.4 L361.6 514.2 L362.0 517.0 L361.0 519.8 L360.4 522.6 L360.3 525.5 L360.1 528.4 L359.5 531.2 L358.6 533.9 L357.5 536.8 L356.1 539.6 L354.4 542.3 L352.3 544.0 L350.1 545.6 L348.3 547.6 L346.0 549.1 L344.7 551.4 L342.7 553.1 L340.9 555.0 L338.1 556.0 L335.3 556.6 L332.5 557.5 L330.4 558.8 L329.0 560.8 L327.4 562.6 L325.7 564.3 L324.4 567.1 L323.3 569.8 L322.3 572.7 L320.1 574.8 L317.3 576.1 L315.0 574.0 L312.2 572.7 L308.8 573.3 L305.5 574.4 L303.1 573.2 L300.4 572.7 L298.8 575.1 L298.0 577.9 L296.7 580.4 L295.3 582.9 L292.6 581.6 L290.3 579.5 L288.1 577.4 L285.5 575.9 L283.5 573.6 L281.2 575.3 L278.4 576.1 L274.9 576.6 L271.4 576.4 L267.1 577.1 L264.6 576.8 L262.3 575.9 L260.0 575.0 L256.5 575.8 L252.9 575.7 L249.9 575.3 L247.0 574.2 L244.3 572.9 L241.3 572.3 L238.5 571.1 L235.7 570.0 L232.7 570.0 L230.0 568.7 L227.1 568.6 L224.2 568.9 L221.5 569.9 L218.6 570.0 L216.0 570.3 L213.3 570.2 L210.7 570.0 L209.5 566.8 L208.6 563.6 L210.8 560.8 L213.6 558.6 L215.6 556.4 L217.4 554.1 L218.6 551.4 L220.0 548.9 L221.4 546.4 L222.5 543.7 L224.3 541.4 L224.3 538.9 L225.1 536.6 L225.7 534.3 L225.8 531.8 L226.8 529.4 L226.4 526.7 L227.1 524.3 L228.9 521.8 L231.4 520.0 L233.5 518.6 L235.0 516.5 L236.5 514.4 L238.6 512.9 L240.1 510.5 L241.0 507.8 L242.9 505.7 L244.1 503.3 L245.2 500.8 L247.2 499.0 L248.7 496.8 L249.9 494.5 L248.5 491.3 L246.8 488.3 L245.0 486.1 L243.6 483.6 L241.6 482.0 L239.5 480.4 L237.9 478.1 L235.8 476.6 L233.5 475.9 L231.2 475.0 L228.7 474.8 L226.4 474.3 L224.2 473.0 L221.8 472.7 L220.0 470.9 L217.9 469.8 L215.8 468.5 L213.7 467.2 L211.6 466.0 L209.4 464.9 L207.0 464.6 L204.7 463.7 L202.3 463.3 L200.0 462.6 L197.2 461.9 L194.5 460.8 L192.1 459.2 L189.6 457.6 L187.2 455.9 L185.2 453.8 L182.7 452.2 L181.3 450.1 L179.2 448.7 L177.8 446.6 L175.7 445.2 L174.0 443.2 L172.0 441.7 L169.5 440.6 L167.4 439.2 L165.6 437.4 L163.1 436.3 L160.7 434.9 L158.4 433.6 L156.2 431.9 L152.8 432.8 L149.5 434.0 L147.2 432.9 L144.7 432.2 L142.1 431.9 L139.7 431.2 L137.0 429.9 L134.4 428.5 L131.3 428.1 L128.8 426.5 L126.3 425.3 L123.8 424.0 L121.0 423.4 L119.7 421.1 L118.1 418.9 L116.3 417.0 L114.8 414.8 L112.1 413.9 L109.9 412.0 L107.2 411.2 L104.9 409.5 L102.3 408.6 L100.8 406.6 L98.5 405.6 L96.7 404.0 L95.2 402.0 L93.0 400.8 L91.4 398.8 L89.1 397.4 L87.3 395.6 L85.5 393.8 L84.2 391.4 L82.1 389.9 L81.0 387.5 L79.0 385.8 L78.2 383.2 L76.9 380.9 L75.1 379.0 L74.3 376.6 L73.0 374.4 L72.2 371.9 L71.2 369.6 L68.9 368.4 L66.7 366.9 L65.3 364.5 L63.0 363.3 L60.8 361.8 L58.7 360.3 L63.4 341.1 L72.4 309.9 L73.0 291.2 L85.2 272.8 L89.6 263.2 Z" fill="none" stroke="#2a1608" stroke-width="1.15" stroke-linejoin="round"/>
<path d="M89.6 263.2 L108.0 267.6 L127.3 273.3 L150.0 281.9 L165.6 290.4 L181.2 302.1 L196.8 316.1 L212.3 331.7 L221.7 341.0 L231.0 351.2 L234.4 353.4 M63.4 341.1 L77.4 352.0 L102.3 369.6 L133.5 391.4 L150.0 401.6 L165.6 413.2 L181.2 424.9 L196.8 436.4 L212.3 446.5 L223.4 454.5 L239.0 468.1 L249.9 480.5 L259.2 494.5 L265.5 507.0 L269.3 521.0 L270.9 533.5 L271.5 549.1 L271.4 576.4" fill="none" stroke="#140a04" stroke-width="1.5" stroke-linejoin="round"/>
<path d="M101.2 412.5 H105.6 M103.4 410.3 V414.7" stroke="#7a7ab0" stroke-width="0.6"/>
<text x="196.30" y="295.70" font-size="5.0" fill="#3b3b6e" text-anchor="middle">Alto Paraguay</text>
<text x="127.00" y="340.50" font-size="5.0" fill="#3b3b6e" text-anchor="middle">Boquerón</text>
<text x="202.60" y="422.60" font-size="5.0" fill="#3b3b6e" text-anchor="middle">Pdte . Hayes</text>
<text x="263.40" y="384.10" font-size="5.0" fill="#3b3b6e" text-anchor="middle">Concepción</text>
<text x="302.90" y="372.90" font-size="5.0" fill="#3b3b6e" text-anchor="middle">Amambay</text>
<text x="283.20" y="434.90" font-size="5.0" fill="#3b3b6e" text-anchor="middle">San Pedro</text>
<text x="335.60" y="443.30" font-size="5.0" fill="#3b3b6e" text-anchor="middle">Canindeyú</text>
<text x="271.30" y="483.00" font-size="5.0" fill="#3b3b6e" text-anchor="middle">Cordillera</text>
<text x="306.90" y="485.30" font-size="5.0" fill="#3b3b6e" text-anchor="middle">Caaguazú</text>
<text x="347.10" y="495.90" font-size="5.0" fill="#3b3b6e" text-anchor="middle">Alto Paraná</text>
<text x="243.20" y="504.80" font-size="5.0" fill="#3b3b6e" text-anchor="middle">Central</text>
<text x="294.30" y="508.00" font-size="5.0" fill="#3b3b6e" text-anchor="middle">Guairá</text>
<text x="267.60" y="518.90" font-size="5.0" fill="#3b3b6e" text-anchor="middle">Paraguarí</text>
<text x="300.50" y="530.50" font-size="5.0" fill="#3b3b6e" text-anchor="middle">Caazapá</text>
<text x="321.90" y="552.50" font-size="5.0" fill="#3b3b6e" text-anchor="middle">Itapúa</text>
<text x="236.40" y="555.20" font-size="5.0" fill="#3b3b6e" text-anchor="middle">Ñeembucú</text>
<text x="268.60" y="554.80" font-size="5.0" fill="#3b3b6e" text-anchor="middle">Misiones</text>
<text x="233.10" y="489.20" font-size="4.9" font-weight="bold" fill="#1d1d3a" text-anchor="middle">Asunción</text>
<polygon points="340.9,277.2 340.3,283.8 355.9,292.2" fill="#23a3e6"/>
<polygon points="340.9,277.2 347.5,276.6 355.9,292.2" fill="#1565c8"/>
<polygon points="340.9,277.2 334.3,276.6 325.9,292.2" fill="#23a3e6"/>
<polygon points="340.9,277.2 341.5,283.8 325.9,292.2" fill="#1565c8"/>
<polygon points="340.9,277.2 341.5,270.6 325.9,262.2" fill="#23a3e6"/>
<polygon points="340.9,277.2 334.3,277.8 325.9,262.2" fill="#1565c8"/>
<polygon points="340.9,277.2 347.5,277.8 355.9,262.2" fill="#23a3e6"/>
<polygon points="340.9,277.2 340.3,270.6 355.9,262.2" fill="#1565c8"/>
<polygon points="340.9,277.2 336.6,272.9 340.9,252.4" fill="#1515b4"/>
<polygon points="340.9,277.2 345.2,272.9 340.9,252.4" fill="#a9cbdc"/>
<polygon points="340.9,277.2 345.2,272.9 365.7,277.2" fill="#1515b4"/>
<polygon points="340.9,277.2 345.2,281.5 365.7,277.2" fill="#a9cbdc"/>
<polygon points="340.9,277.2 345.2,281.5 340.9,302.0" fill="#1515b4"/>
<polygon points="340.9,277.2 336.6,281.5 340.9,302.0" fill="#a9cbdc"/>
<polygon points="340.9,277.2 336.6,281.5 316.1,277.2" fill="#1515b4"/>
<polygon points="340.9,277.2 336.6,272.9 316.1,277.2" fill="#a9cbdc"/>
<text x="340.90" y="250.40" font-size="8" font-weight="bold" fill="#15151c" text-anchor="middle">N</text>
<text x="340.90" y="310.20" font-size="8" font-weight="bold" fill="#15151c" text-anchor="middle">S</text>
<text x="311.40" y="280.30" font-size="8" font-weight="bold" fill="#15151c" text-anchor="middle">O</text>
<text x="370.30" y="280.10" font-size="8" font-weight="bold" fill="#15151c" text-anchor="middle">E</text>
<text x="321.00" y="261.20" font-size="5.4" fill="#3a3a44" text-anchor="middle">NO</text>
<text x="360.50" y="261.20" font-size="5.4" fill="#3a3a44" text-anchor="middle">NE</text>
<text x="321.00" y="299.20" font-size="5.4" fill="#3a3a44" text-anchor="middle">SO</text>
<text x="360.50" y="299.20" font-size="5.4" fill="#3a3a44" text-anchor="middle">SE</text>
<g transform="translate(121.5,540.8) scale(0.883)">
<path d="M-13.87 -5.45 C-20.26 -10.44 -32.73 -11.38 -41.30 -7.32 C-45.97 -5.14 -50.65 -3.90 -54.08 -4.21 L-50.96 -0.16 L-48.47 2.49 L-44.41 3.90 L-42.23 6.39 L-36.62 7.32 L-34.44 10.29 L-28.05 10.13 L-25.87 12.31 L-19.17 11.38 L-13.87 9.19 Z" fill="#b9996d"/>
<path d="M-50.96 -0.16 C-41.30 -0.47 -30.39 -5.14 -14.49 -2.65 M-44.41 3.90 C-36.62 3.27 -27.27 -1.40 -14.49 0.47 M-36.62 7.32 C-29.61 6.70 -22.60 2.34 -14.49 3.58 M-28.05 10.13 C-23.38 9.51 -19.17 6.08 -14.49 6.39" fill="none" stroke="#ffffff" stroke-width="0.55"/>
<path d="M13.87 -5.45 C20.26 -10.44 32.73 -11.38 41.30 -7.32 C45.97 -5.14 50.65 -3.90 54.08 -4.21 L50.96 -0.16 L48.47 2.49 L44.41 3.90 L42.23 6.39 L36.62 7.32 L34.44 10.29 L28.05 10.13 L25.87 12.31 L19.17 11.38 L13.87 9.19 Z" fill="#b9996d"/>
<path d="M50.96 -0.16 C41.30 -0.47 30.39 -5.14 14.49 -2.65 M44.41 3.90 C36.62 3.27 27.27 -1.40 14.49 0.47 M36.62 7.32 C29.61 6.70 22.60 2.34 14.49 3.58 M28.05 10.13 C23.38 9.51 19.17 6.08 14.49 6.39" fill="none" stroke="#ffffff" stroke-width="0.55"/>
<ellipse cx="0" cy="0.8" rx="13.6" ry="13.2" fill="#ffffff"/>
<ellipse cx="0" cy="0.8" rx="12.3" ry="12.2" fill="none" stroke="#b9996d" stroke-width="2.3" stroke-dasharray="1.5 0.8" opacity="0.92"/>
<rect x="-3.4" y="-14" width="6.8" height="6" fill="#ffffff"/>
<circle cx="0" cy="0" r="8.9" fill="#ffffff"/>
<circle cx="0" cy="0" r="8.2" fill="none" stroke="#b9996d" stroke-width="1.25"/>
<circle cx="0" cy="0" r="5.6" fill="none" stroke="#b9996d" stroke-width="0.9" stroke-dasharray="1.1 0.7"/>
<polygon points="0.0,-3.4 0.8,-1.1 3.2,-1.1 1.3,0.4 2.0,2.8 0.0,1.4 -2.0,2.8 -1.3,0.4 -3.2,-1.1 -0.8,-1.1" fill="#b9996d"/>
</g>
<text x="107.50" y="560.60" font-size="6.4" font-weight="bold" fill="#bfa27c" textLength="28.50" lengthAdjust="spacingAndGlyphs" style="font-family:'Liberation Serif',serif">DINAC</text>
<rect x="412.7" y="237.6" width="311.8" height="573.4" fill="#fff" stroke="#bfccdf" stroke-width="1"/>
<rect x="551.51" y="290.80" width="98.85" height="179.82" fill="#b4c7e7"/>
<rect x="551.51" y="470.62" width="123.56" height="44.96" fill="#b4c7e7"/>
<rect x="576.22" y="515.58" width="98.85" height="179.82" fill="#b4c7e7"/>
<path d="M412.7 269.4 H724.5 M412.7 290.8 H526.8 M412.7 717.3 H724.5 M412.7 695.40 H724.5 M526.8 237.6 V290.8 M625.65 237.6 V290.8 M551.51 269.4 V290.8 M576.22 269.4 V290.8 M600.94 269.4 V290.8 M650.36 269.4 V290.8 M675.08 269.4 V290.8 M699.79 269.4 V290.8 M412.7 313.28 H526.8 M412.7 335.76 H526.8 M412.7 358.23 H526.8 M412.7 380.71 H526.8 M412.7 403.19 H526.8 M412.7 425.67 H526.8 M412.7 448.14 H526.8 M412.7 470.62 H526.8 M412.7 493.10 H526.8 M412.7 515.58 H526.8 M412.7 538.06 H526.8 M412.7 560.53 H526.8 M412.7 583.01 H526.8 M412.7 605.49 H526.8 M412.7 627.97 H526.8 M412.7 650.44 H526.8 M412.7 672.92 H526.8" stroke="#bfccdf" stroke-width="1" fill="none"/>
<path d="M526.20 290.80 H725.10 M526.20 313.28 H725.10 M526.20 335.76 H725.10 M526.20 358.23 H725.10 M526.20 380.71 H725.10 M526.20 403.19 H725.10 M526.20 425.67 H725.10 M526.20 448.14 H725.10 M526.20 470.62 H725.10 M526.20 493.10 H725.10 M526.20 515.58 H725.10 M526.20 538.06 H725.10 M526.20 560.53 H725.10 M526.20 583.01 H725.10 M526.20 605.49 H725.10 M526.20 627.97 H725.10 M526.20 650.44 H725.10 M526.20 672.92 H725.10 M526.20 695.40 H725.10 M526.80 290.8 V695.40 M551.51 290.8 V695.40 M576.22 290.8 V695.40 M600.94 290.8 V695.40 M625.65 290.8 V695.40 M650.36 290.8 V695.40 M675.08 290.8 V695.40 M699.79 290.8 V695.40 M724.50 290.8 V695.40" stroke="#15151c" stroke-width="1.25" fill="none"/>
<text x="547.00" y="256.20" font-size="10.6" font-weight="bold" fill="#111" textLength="59.20" lengthAdjust="spacingAndGlyphs" stroke="#111" stroke-width="0.22">Domingo 21</text>
<text x="652.50" y="256.20" font-size="10.6" font-weight="bold" fill="#111" textLength="45.00" lengthAdjust="spacingAndGlyphs" stroke="#111" stroke-width="0.22">Lunes 22</text>
<text x="454.00" y="282.80" font-size="10.4" font-weight="bold" fill="#111" textLength="31.20" lengthAdjust="spacingAndGlyphs" stroke="#111" stroke-width="0.22">Sector</text>
<text x="539.16" y="286.90" font-size="10.1" font-weight="bold" fill="#111" text-anchor="middle" stroke="#111" stroke-width="0.22">M</text>
<text x="563.87" y="286.90" font-size="10.1" font-weight="bold" fill="#111" text-anchor="middle" stroke="#111" stroke-width="0.22">M</text>
<text x="588.58" y="286.90" font-size="10.1" font-weight="bold" fill="#111" text-anchor="middle" stroke="#111" stroke-width="0.22">T</text>
<text x="613.29" y="286.90" font-size="10.1" font-weight="bold" fill="#111" text-anchor="middle" stroke="#111" stroke-width="0.22">N</text>
<text x="638.01" y="286.90" font-size="10.1" font-weight="bold" fill="#111" text-anchor="middle" stroke="#111" stroke-width="0.22">M</text>
<text x="662.72" y="286.90" font-size="10.1" font-weight="bold" fill="#111" text-anchor="middle" stroke="#111" stroke-width="0.22">M</text>
<text x="687.43" y="286.90" font-size="10.1" font-weight="bold" fill="#111" text-anchor="middle" stroke="#111" stroke-width="0.22">T</text>
<text x="712.14" y="286.90" font-size="10.1" font-weight="bold" fill="#111" text-anchor="middle" stroke="#111" stroke-width="0.22">N</text>
<text x="469.75" y="304.68" font-size="10.7" font-weight="bold" fill="#111" text-anchor="middle" stroke="#111" stroke-width="0.22">Ñeembucú</text>
<text x="469.75" y="327.16" font-size="10.7" font-weight="bold" fill="#111" text-anchor="middle" stroke="#111" stroke-width="0.22">Misiones</text>
<text x="469.75" y="349.63" font-size="10.7" font-weight="bold" fill="#111" text-anchor="middle" stroke="#111" stroke-width="0.22">Itapúa</text>
<text x="469.75" y="372.11" font-size="10.7" font-weight="bold" fill="#111" text-anchor="middle" stroke="#111" stroke-width="0.22">Paraguarí</text>
<text x="469.75" y="394.59" font-size="10.7" font-weight="bold" fill="#111" text-anchor="middle" stroke="#111" stroke-width="0.22">Caazapá</text>
<text x="469.75" y="417.07" font-size="10.7" font-weight="bold" fill="#111" text-anchor="middle" stroke="#111" stroke-width="0.22">Guairá</text>
<text x="469.75" y="439.54" font-size="10.7" font-weight="bold" fill="#111" text-anchor="middle" stroke="#111" stroke-width="0.22">Central</text>
<text x="469.75" y="462.02" font-size="10.7" font-weight="bold" fill="#111" text-anchor="middle" stroke="#111" stroke-width="0.22">Asunción</text>
<text x="469.75" y="484.50" font-size="10.7" font-weight="bold" fill="#111" text-anchor="middle" stroke="#111" stroke-width="0.22">Cordillera</text>
<text x="469.75" y="506.98" font-size="10.7" font-weight="bold" fill="#111" text-anchor="middle" stroke="#111" stroke-width="0.22">Caaguazú</text>
<text x="469.75" y="529.46" font-size="10.7" font-weight="bold" fill="#111" text-anchor="middle" stroke="#111" stroke-width="0.22">San Pedro</text>
<text x="469.75" y="551.93" font-size="10.7" font-weight="bold" fill="#111" text-anchor="middle" stroke="#111" stroke-width="0.22">Concepción</text>
<text x="469.75" y="574.41" font-size="10.7" font-weight="bold" fill="#111" text-anchor="middle" stroke="#111" stroke-width="0.22">Alto Paraná</text>
<text x="469.75" y="596.89" font-size="10.7" font-weight="bold" fill="#111" text-anchor="middle" stroke="#111" stroke-width="0.22">Canindeyú</text>
<text x="469.75" y="619.37" font-size="10.7" font-weight="bold" fill="#111" text-anchor="middle" stroke="#111" stroke-width="0.22">Amambay</text>
<text x="469.75" y="641.84" font-size="10.7" font-weight="bold" fill="#111" text-anchor="middle" stroke="#111" stroke-width="0.22">Pdte. Hayes</text>
<text x="469.75" y="664.32" font-size="10.7" font-weight="bold" fill="#111" text-anchor="middle" stroke="#111" stroke-width="0.22">Alto Paraguay</text>
<text x="469.75" y="686.80" font-size="10.7" font-weight="bold" fill="#111" text-anchor="middle" stroke="#111" stroke-width="0.22">Boquerón</text>
<text x="540.40" y="709.60" font-size="10.6" font-weight="bold" fill="#111" textLength="57.10" lengthAdjust="spacingAndGlyphs" stroke="#111" stroke-width="0.22">Referencia:</text>
<circle cx="421" cy="728.3" r="1.55" fill="#111"/>
<circle cx="421" cy="756.8" r="1.55" fill="#111"/>
<circle cx="421" cy="785.5" r="1.55" fill="#111"/>
<text x="434.20" y="731.70" font-size="10.6" font-weight="bold" fill="#111" textLength="52.90" lengthAdjust="spacingAndGlyphs" stroke="#111" stroke-width="0.2">M, M, T, N:</text>
<text x="490.50" y="731.70" font-size="10.6" fill="#3a3a3a" textLength="167.80" lengthAdjust="spacingAndGlyphs">Madrugada, Mañana, Tarde, Noche</text>
<text x="431.30" y="746.00" font-size="10.6" fill="#3a3a3a" textLength="82.10" lengthAdjust="spacingAndGlyphs">respectivamente.</text>
<text x="431.30" y="760.20" font-size="10.6" font-weight="bold" fill="#111" textLength="89.10" lengthAdjust="spacingAndGlyphs" stroke="#111" stroke-width="0.2">Casilla coloreada:</text>
<text x="523.80" y="760.20" font-size="10.6" fill="#3a3a3a" textLength="189.70" lengthAdjust="spacingAndGlyphs">indica que en ese periodo se prevén los</text>
<text x="431.30" y="774.50" font-size="10.6" fill="#3a3a3a" textLength="56.60" lengthAdjust="spacingAndGlyphs">fenómenos.</text>
<text x="431.30" y="788.90" font-size="10.6" font-weight="bold" fill="#111" textLength="131.40" lengthAdjust="spacingAndGlyphs" stroke="#111" stroke-width="0.2">Mapa con área coloreada:</text>
<text x="565.80" y="788.90" font-size="10.6" fill="#3a3a3a" textLength="122.10" lengthAdjust="spacingAndGlyphs">sector donde se espera el</text>
<text x="431.30" y="803.10" font-size="10.6" fill="#3a3a3a" textLength="139.20" lengthAdjust="spacingAndGlyphs">desarrollo de los fenómenos.</text>
<rect x="62.5" y="593.7" width="311" height="33" rx="16.5" fill="#b5c9ea"/>
<text x="74.70" y="616.10" font-size="13.8" font-weight="bold" fill="#1a49a6" textLength="288.10" lengthAdjust="spacingAndGlyphs" stroke="#1a49a6" stroke-width="0.3">Características puntuales de los fenómenos</text>
<rect x="100.5" y="635.8" width="262.0" height="35.8" rx="9.3" fill="#fca46a"/>
<text x="112.30" y="655.90" font-size="11.6" font-weight="bold" fill="#141414" textLength="39.50" lengthAdjust="spacingAndGlyphs" stroke="#141414" stroke-width="0.25">Lluvias</text>
<polygon points="158.6,648.6 167.3,648.6 167.3,645.3 176.0,652.5 167.3,659.8 167.3,656.5 158.6,656.5" fill="#1a57c4"/>
<text x="201.60" y="650.60" font-size="11.8" fill="#2a2a2a" textLength="113.40" lengthAdjust="spacingAndGlyphs">Acumulados de entre</text>
<text x="226.20" y="666.10" font-size="11.8" font-weight="bold" fill="#141414" textLength="66.80" lengthAdjust="spacingAndGlyphs" stroke="#141414" stroke-width="0.22">50 y 90 mm.</text>
<g transform="translate(0,0)"><g fill="#b9b9b9"><circle cx="85" cy="647.6" r="4.7"/><circle cx="91.2" cy="651.8" r="3.8"/><circle cx="79.7" cy="652.9" r="3.6"/><rect x="79.7" y="650" width="11.5" height="6.5" rx="1"/></g><path d="M78.9 658.8 L77.2 663.2 M82.2 658.8 L80.5 663.2 M85.5 658.8 L83.8 663.2 M88.8 658.8 L87.1 663.2 M92.1 658.8 L90.4 663.2 " stroke="#35bfd2" stroke-width="1.1" fill="none"/></g>
<rect x="100.5" y="681.2" width="260.1" height="35.7" rx="9.3" fill="#fca46a"/>
<text x="112.30" y="701.10" font-size="11.6" font-weight="bold" fill="#141414" textLength="36.90" lengthAdjust="spacingAndGlyphs" stroke="#141414" stroke-width="0.25">Viento</text>
<polygon points="157.8,692.4 166.0,692.4 166.0,688.9 174.2,696.5 166.0,704.0 166.0,700.5 157.8,700.5" fill="#1a57c4"/>
<text x="191.70" y="695.40" font-size="11.8" fill="#2a2a2a" textLength="149.90" lengthAdjust="spacingAndGlyphs">Ráfagas puntuales en torno a</text>
<text x="238.40" y="710.20" font-size="11.8" font-weight="bold" fill="#141414" textLength="53.80" lengthAdjust="spacingAndGlyphs" stroke="#141414" stroke-width="0.22">120 km/h.</text>
<path transform="translate(0,0)" d="M74.15 693.40 C77.48 691.57 81.64 691.16 84.97 691.99 S89.96 691.57 89.13 689.08 S85.80 687.00 85.22 688.91 M74.32 698.39 C77.48 694.90 81.64 694.90 85.80 696.15 S89.96 695.32 91.62 695.90 S94.95 699.89 92.04 702.55 S87.05 702.39 88.13 699.48 M75.40 701.72 C77.48 699.06 80.81 698.64 83.30 700.72 S84.97 704.47 82.47 705.38 S79.56 704.88 80.14 702.80 " stroke="#a6a6a6" stroke-width="1.45" fill="none" stroke-linecap="round"/>
<rect x="102" y="726.7" width="260.3" height="36.3" rx="9.3" fill="#fedb50"/>
<text x="113.60" y="747.50" font-size="11.6" font-weight="bold" fill="#141414" textLength="39.00" lengthAdjust="spacingAndGlyphs" stroke="#141414" stroke-width="0.25">Lluvias</text>
<polygon points="160.4,739.6 168.9,739.6 168.9,736.3 177.3,743.5 168.9,750.8 168.9,747.5 160.4,747.5" fill="#1a57c4"/>
<text x="202.60" y="742.30" font-size="11.8" fill="#2a2a2a" textLength="113.50" lengthAdjust="spacingAndGlyphs">Acumulados de entre</text>
<text x="227.30" y="757.40" font-size="11.8" font-weight="bold" fill="#141414" textLength="66.70" lengthAdjust="spacingAndGlyphs" stroke="#141414" stroke-width="0.22">20 y 40 mm.</text>
<g transform="translate(0,91.3)"><g fill="#b9b9b9"><circle cx="85" cy="647.6" r="4.7"/><circle cx="91.2" cy="651.8" r="3.8"/><circle cx="79.7" cy="652.9" r="3.6"/><rect x="79.7" y="650" width="11.5" height="6.5" rx="1"/></g><path d="M78.9 658.8 L77.2 663.2 M82.2 658.8 L80.5 663.2 M85.5 658.8 L83.8 663.2 M88.8 658.8 L87.1 663.2 M92.1 658.8 L90.4 663.2 " stroke="#35bfd2" stroke-width="1.1" fill="none"/></g>
<rect x="102" y="772.7" width="260.3" height="35.3" rx="9.3" fill="#fedb50"/>
<text x="112.30" y="791.10" font-size="11.6" font-weight="bold" fill="#141414" textLength="36.90" lengthAdjust="spacingAndGlyphs" stroke="#141414" stroke-width="0.25">Viento</text>
<polygon points="159.1,783.5 167.6,783.5 167.6,780.0 176.0,787.5 167.6,795.0 167.6,791.5 159.1,791.5" fill="#2c66b4"/>
<text x="193.60" y="786.40" font-size="11.8" fill="#2a2a2a" textLength="149.80" lengthAdjust="spacingAndGlyphs">Ráfagas puntuales en torno a</text>
<text x="240.30" y="801.20" font-size="11.8" font-weight="bold" fill="#141414" textLength="53.70" lengthAdjust="spacingAndGlyphs" stroke="#141414" stroke-width="0.22">100 km/h.</text>
<path transform="translate(2.2,90.6)" d="M74.15 693.40 C77.48 691.57 81.64 691.16 84.97 691.99 S89.96 691.57 89.13 689.08 S85.80 687.00 85.22 688.91 M74.32 698.39 C77.48 694.90 81.64 694.90 85.80 696.15 S89.96 695.32 91.62 695.90 S94.95 699.89 92.04 702.55 S87.05 702.39 88.13 699.48 M75.40 701.72 C77.48 699.06 80.81 698.64 83.30 700.72 S84.97 704.47 82.47 705.38 S79.56 704.88 80.14 702.80 " stroke="#a6a6a6" stroke-width="1.45" fill="none" stroke-linecap="round"/>
<rect x="51" y="822.9" width="339.9" height="51" rx="20" fill="#b5c9ea"/>
<text x="74.20" y="844.10" font-size="12.9" font-weight="bold" fill="#15152a" textLength="297.20" lengthAdjust="spacingAndGlyphs" stroke="#15152a" stroke-width="0.25">Descargas eléctricas con alta frecuencia y la alta</text>
<text x="61.60" y="861.10" font-size="12.9" font-weight="bold" fill="#15152a" textLength="321.50" lengthAdjust="spacingAndGlyphs" stroke="#15152a" stroke-width="0.25">probabilidad de caída de granizos en forma puntual.</text>
<rect x="0" y="893" width="770" height="69" fill="url(#hg)"/><rect x="0" y="893" width="320" height="69" fill="url(#fd)"/>
<text x="215.00" y="908.20" font-size="12" font-weight="bold" fill="#fff" textLength="340.60" lengthAdjust="spacingAndGlyphs">Fecha y hora de actualización: 20/09/2025 Hora: 10:30 H.O.P.</text>
<text x="156.20" y="924.00" font-size="12" font-weight="bold" fill="#fff" textLength="457.50" lengthAdjust="spacingAndGlyphs">Dirección de Meteorología e Hidrología - Dpto. de Análisis y Predicción del Tiempo</text>
<text x="194.70" y="939.90" font-size="12" font-weight="bold" fill="#fff" textLength="380.10" lengthAdjust="spacingAndGlyphs">Cnel. Francisco López 1080 c/ De La Conquista Tel. +595 21 4381000</text>
<text x="270.00" y="955.20" font-size="12" font-weight="bold" fill="#fff" textLength="232.20" lengthAdjust="spacingAndGlyphs">e-mail: pronosticos@meteorologia.gov.py</text>
</svg>
</body></html>
